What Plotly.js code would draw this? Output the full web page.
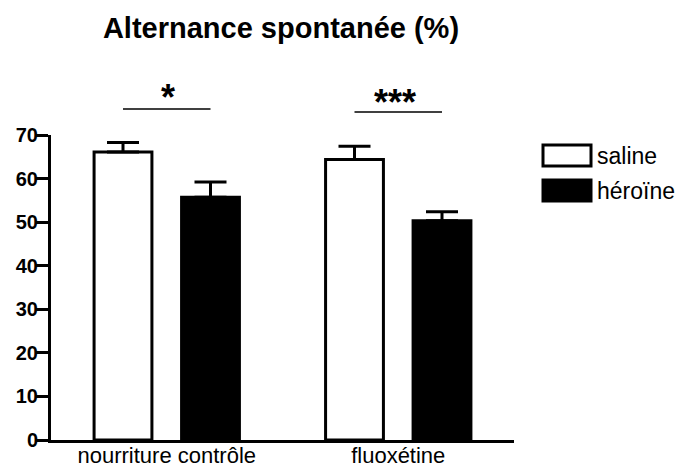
<!DOCTYPE html>
<html>
<head>
<meta charset="utf-8">
<script src="https://cdn.plot.ly/plotly-3.0.1.min.js"></script>
<style>html,body{margin:0;padding:0;background:#fff;}#chart{width:683px;height:470px;}</style>
</head>
<body>
<div id="chart"></div>
<script>
// ---- data ----
const categories = ["nourriture contrôle", "fluoxétine"];
const seriesNames = ["saline", "héroïne"];
const salineValues = [66.1, 64.4];
const salineErrors = [2.2, 3.0];
const heroineValues = [55.7, 50.3];
const heroineErrors = [3.5, 2.1];
const significance = ["*", "***"];
const yTicks = [0, 10, 20, 30, 40, 50, 60, 70];
const chartTitle = "Alternance spontanée (%)";

// ---- layout constants ----
const W = 683, H = 470;
const M = {l: 51, r: 169, t: 135, b: 30};
const plotW = W - M.l - M.r, plotH = H - M.t - M.b;
const px2x = px => (px - M.l) / plotW;
const py2y = py => 1 - (py - M.t) / plotH;
const xRange = [-0.5, 1.5];
const cat2paper = v => (v - xRange[0]) / (xRange[1] - xRange[0]);

const barLine = {color: "#000", width: 3};
const errStyle = {type: "data", symmetric: false, thickness: 3, width: 16, color: "#000"};

const traces = [
  {
    type: "bar", name: seriesNames[0], x: categories, y: salineValues,
    marker: {color: "#fff", line: barLine},
    error_y: Object.assign({array: salineErrors, arrayminus: salineValues.map(() => 0)}, errStyle),
    showlegend: false, hoverinfo: "skip"
  },
  {
    type: "bar", name: seriesNames[1], x: categories, y: heroineValues,
    marker: {color: "#000", line: barLine},
    error_y: Object.assign({array: heroineErrors, arrayminus: heroineValues.map(() => 0)}, errStyle),
    showlegend: false, hoverinfo: "skip"
  }
];

// significance brackets (between bar centres of each group), placed above the plot area
const half = 0.189;
const sigLinePx = [109, 112];
const sigStarPx = [98, 102];
const shapes = [];
const annotations = [];
categories.forEach((c, i) => {
  shapes.push({type: "line", xref: "paper", yref: "paper",
    x0: cat2paper(i - half), x1: cat2paper(i + half), y0: py2y(sigLinePx[i]), y1: py2y(sigLinePx[i]),
    line: {color: "#000", width: 1.5}});
  annotations.push({xref: "paper", yref: "paper", x: cat2paper(i) - (significance[i].length > 1 ? 0.008 : -0.003),
    y: py2y(sigStarPx[i]),
    text: "<b>" + significance[i] + "</b>", showarrow: false, yanchor: "middle", xanchor: "center",
    font: {family: "Liberation Sans, Arial, sans-serif", size: 36, color: "#000"}});
});

// custom legend
const legendBoxes = [
  {y0: 145, y1: 166, fill: "#fff"},
  {y0: 180, y1: 201, fill: "#000"}
];
legendBoxes.forEach((b, i) => {
  shapes.push({type: "rect", xref: "paper", yref: "paper",
    x0: px2x(543), x1: px2x(591), y0: py2y(b.y1), y1: py2y(b.y0),
    fillcolor: b.fill, line: {color: "#000", width: 3}});
  annotations.push({xref: "paper", yref: "paper", x: px2x(595), y: py2y((b.y0 + b.y1) / 2),
    xanchor: "left", yanchor: "middle", text: seriesNames[i], showarrow: false,
    font: {family: "Liberation Sans, Arial, sans-serif", size: 23, color: "#000"}});
});

const layout = {
  width: W, height: H,
  margin: M,
  paper_bgcolor: "#fff", plot_bgcolor: "#fff",
  font: {family: "Liberation Sans, Arial, sans-serif", color: "#000"},
  title: {text: "<b>" + chartTitle + "</b>", xref: "paper", x: px2x(281), xanchor: "center",
    yref: "container", y: 1 - 28 / H, yanchor: "middle",
    font: {size: 29, family: "Liberation Sans, Arial, sans-serif", color: "#000"}},
  barmode: "group", bargap: 0.244, bargroupgap: 0.339,
  xaxis: {
    type: "category", range: xRange, showline: true, linecolor: "#000", linewidth: 3,
    ticks: "", showgrid: false, zeroline: false, fixedrange: true, ticklabelstandoff: -6,
    tickfont: {size: 22, family: "Liberation Sans, Arial, sans-serif", color: "#000"}
  },
  yaxis: {
    range: [0, 70], tickvals: yTicks, ticktext: yTicks.map(String), showline: true, linecolor: "#000", linewidth: 3,
    ticks: "outside", ticklen: 13, tickwidth: 3, tickcolor: "#000", showgrid: false, zeroline: false,
    ticklabelstandoff: -7,
    tickfont: {size: 20, family: "Liberation Sans, Arial, sans-serif", color: "#000", weight: "bold"},
    fixedrange: true
  },
  shapes: shapes,
  annotations: annotations,
  showlegend: false
};

Plotly.newPlot("chart", traces, layout, {displayModeBar: false, staticPlot: true});
</script>
</body>
</html>
